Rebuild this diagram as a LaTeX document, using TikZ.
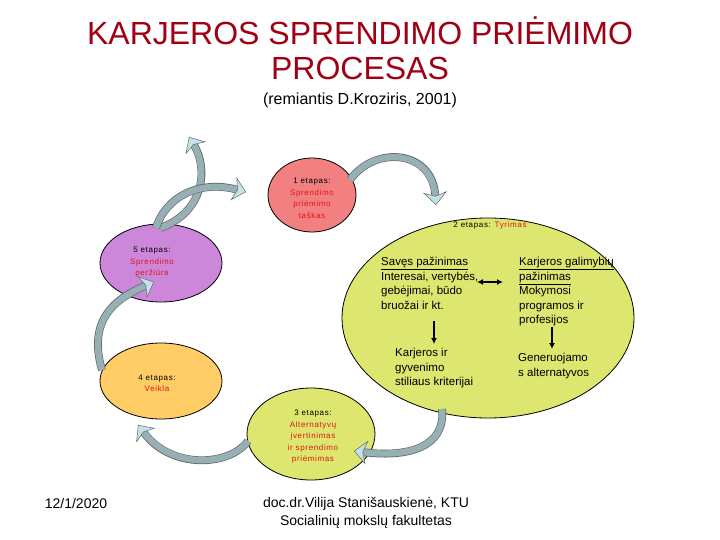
\documentclass[tikz,border=0pt]{standalone}
\usepackage{fontspec}
\setmainfont{Liberation Sans}
\newfontfamily\smallfont[LetterSpace=8]{Liberation Sans}
\usetikzlibrary{arrows.meta,shapes.geometric}
\definecolor{titlered}{RGB}{160,0,20}
\definecolor{pinkfill}{RGB}{242,128,128}
\definecolor{limefill}{RGB}{221,230,110}
\definecolor{violetfill}{RGB}{205,135,218}
\definecolor{orangefill}{RGB}{255,204,102}
\definecolor{stagered}{RGB}{225,20,20}
\definecolor{bandgray}{RGB}{150,176,182}
\definecolor{headblue}{RGB}{196,226,234}
\tikzset{
  stageell/.style={ellipse, draw=black, line width=0.8pt, inner sep=0pt},
  stagetxt/.style={align=center, inner sep=0pt, font=\smallfont\fontsize{8}{11.5}\selectfont},
  bodytxt/.style={align=left, inner sep=0pt, anchor=north west, font=\fontsize{11.5}{14.6}\selectfont},
  bandout/.style={line width=7.8pt, draw=black!60, shorten >=10pt},
  band/.style={line width=6.4pt, draw=bandgray,
    -{Stealth[length=13pt,width=24pt,inset=4pt,fill=headblue,color=black!60,line width'=0.5pt]}},
  smallarrow/.style={line width=1.6pt, -{Latex[length=6pt,width=6pt]}},
}
\begin{document}
\begin{tikzpicture}[x=1pt,y=-1pt]
\useasboundingbox (0,0) rectangle (720,540);
% title
\node[align=center, inner sep=0pt, text=titlered, font=\fontsize{32}{35}\selectfont] (title) at (360,48) {KARJEROS SPRENDIMO PRIĖMIMO\\PROCESAS};
\node[inner sep=0pt, font=\fontsize{16}{19}\selectfont] (sub) at (360,100) {(remiantis D.Kroziris, 2001)};
% ellipses
\node[stageell, fill=limefill, minimum width=292pt, minimum height=200pt] (e2) at (488,318) {};
\node[stageell, fill=pinkfill, minimum width=88pt, minimum height=74pt] (e1) at (312,195) {};
\node[stageell, fill=violetfill, minimum width=122pt, minimum height=78pt] (e5) at (161,263) {};
\node[stageell, fill=orangefill, minimum width=122pt, minimum height=76pt] (e4) at (161,381) {};
\node[stageell, fill=limefill, minimum width=128pt, minimum height=92pt] (e3) at (311,434) {};
% block arrows
\coordinate (t1) at (350,180); \coordinate (h1) at (436,205);
\coordinate (t2) at (442,409); \coordinate (h2) at (354,451);
\coordinate (t3) at (248,441); \coordinate (h3) at (138,425);
\coordinate (t4) at (102,370); \coordinate (h4) at (154,282);
\coordinate (t5) at (156,228); \coordinate (h5) at (246,192);
\coordinate (t6) at (160,228); \coordinate (h6) at (189,137);
\draw[bandout] (t1) .. controls (375,145) and (432,150) .. (h1);
\draw[band] (t1) .. controls (375,145) and (432,150) .. (h1);
\draw[bandout] (t2) .. controls (446,446) and (410,458) .. (h2);
\draw[band] (t2) .. controls (446,446) and (410,458) .. (h2);
\draw[bandout] (t3) .. controls (230,466) and (172,470) .. (h3);
\draw[band] (t3) .. controls (230,466) and (172,470) .. (h3);
\draw[bandout] (t4) .. controls (88,322) and (112,300) .. (h4);
\draw[band] (t4) .. controls (88,322) and (112,300) .. (h4);
\draw[bandout] (t6) .. controls (205,212) and (208,168) .. (h6);
\draw[band] (t6) .. controls (205,212) and (208,168) .. (h6);
\draw[bandout] (t5) .. controls (166,196) and (200,180) .. (h5);
\draw[band] (t5) .. controls (166,196) and (200,180) .. (h5);
% stage texts
\node[stagetxt] (s1) at (312,198.5) {1 etapas:\\\textcolor{stagered}{Sprendimo}\\\textcolor{stagered}{priėmimo}\\\textcolor{stagered}{taškas}};
\node[stagetxt] (s2) at (490,225) {2 etapas: \textcolor{stagered}{Tyrimas}};
\node[stagetxt] (s3) at (313,437) {3 etapas:\\\textcolor{stagered}{Alternatyvų}\\\textcolor{stagered}{įvertinimas}\\\textcolor{stagered}{ir sprendimo}\\\textcolor{stagered}{priėmimas}};
\node[stagetxt] (s4) at (157,383.5) {4 etapas:\\\textcolor{stagered}{Veikla}};
\node[stagetxt] (s5) at (152,262.5) {5 etapas:\\\textcolor{stagered}{Sprendimo}\\\textcolor{stagered}{peržiūra}};
% inside stage 2
\node[bodytxt] (self) at (381,257) {\underline{Savęs pažinimas}\\Interesai, vertybės,\\gebėjimai, būdo\\bruožai ir kt.};
\node[bodytxt] (career) at (519,257) {\underline{Karjeros galimybių}\\\underline{pažinimas}\\Mokymosi\\programos ir\\profesijos};
\node[bodytxt] (crit) at (395,348) {Karjeros ir\\gyvenimo\\stiliaus kriterijai};
\node[bodytxt] (gen) at (518,353) {Generuojamo\\s alternatyvos};
\coordinate (da) at (477,282); \coordinate (db) at (503,282);
\draw[line width=1.6pt, {Latex[length=6pt,width=6pt]}-{Latex[length=6pt,width=6pt]}] (da) -- (db);
\coordinate (la) at (434,321); \coordinate (lb) at (434,344);
\draw[smallarrow] (la) -- (lb);
\coordinate (ra) at (552,327); \coordinate (rb) at (552,349);
\draw[smallarrow] (ra) -- (rb);
% footer
\node[inner sep=0pt, font=\fontsize{14}{18}\selectfont] (date) at (76,503) {12/1/2020};
\node[align=center, inner sep=0pt, font=\fontsize{14}{18}\selectfont] (author) at (366,513) {doc.dr.Vilija Stanišauskienė, KTU\\Socialinių mokslų fakultetas};
\end{tikzpicture}
\end{document}
